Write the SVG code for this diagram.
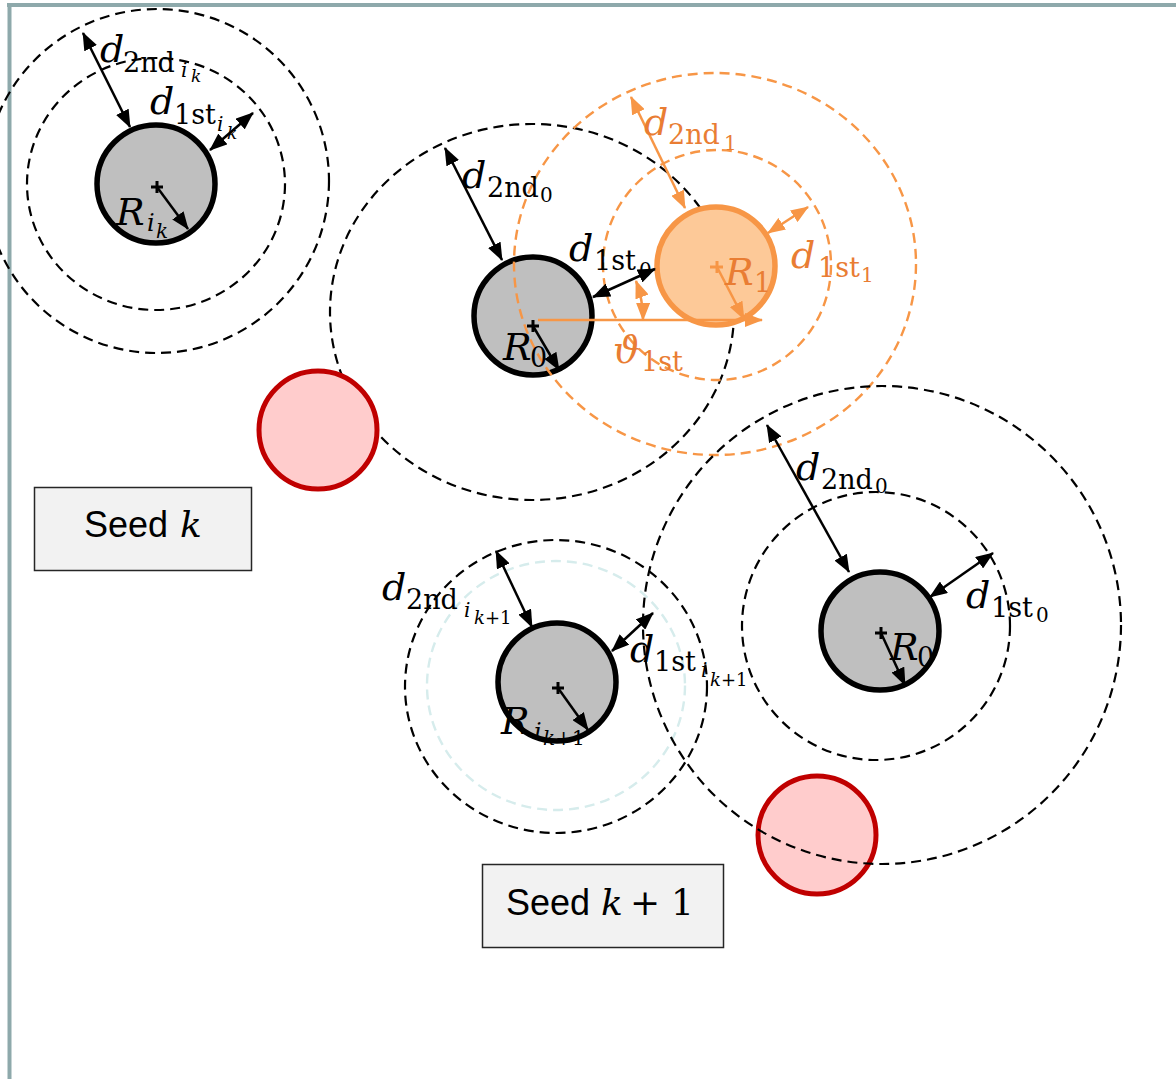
<svg xmlns="http://www.w3.org/2000/svg" width="1176" height="1079" viewBox="0 0 1176 1079">
<style>
.bd{fill:none;stroke:#000;stroke-width:2.2;stroke-dasharray:10 6}
.od{fill:none;stroke:#f79646;stroke-width:2.4;stroke-dasharray:10 6}
.td{fill:none;stroke:#d6ecec;stroke-width:2.4;stroke-dasharray:10 6}
.gray{fill:#bfbfbf;stroke:#000;stroke-width:5.5}
.red{fill:#ffcccc;stroke:#c00000;stroke-width:5}
.org{fill:#fdc998;stroke:#f79646;stroke-width:5.5}
.ba{stroke:#000;stroke-width:2.5;fill:none;marker-start:url(#ab);marker-end:url(#ab)}
.bae{stroke:#000;stroke-width:2.5;fill:none;marker-end:url(#ab)}
.oa{stroke:#f79646;stroke-width:2.5;fill:none;marker-start:url(#ao);marker-end:url(#ao)}
.oae{stroke:#f79646;stroke-width:2.5;fill:none;marker-end:url(#ao)}
.cross{stroke:#000;stroke-width:3}
.ocross{stroke:#f79646;stroke-width:3}
.m{font-family:"DejaVu Serif","Liberation Serif",serif;fill:#000}
.i{font-style:italic}
.o{fill:#e97d33}
.box{fill:#f2f2f2;stroke:#262626;stroke-width:1.5}
.sans{font-family:"Liberation Sans","Noto Sans",sans-serif;font-size:36px;fill:#000}
</style>
<defs>
<marker id="ab" viewBox="0 0 18 14" refX="17" refY="7" markerWidth="18" markerHeight="14" markerUnits="userSpaceOnUse" orient="auto-start-reverse"><path d="M0,0 L18,7 L0,14 z" fill="#000"/></marker>
<marker id="ao" viewBox="0 0 18 14" refX="17" refY="7" markerWidth="18" markerHeight="14" markerUnits="userSpaceOnUse" orient="auto-start-reverse"><path d="M0,0 L18,7 L0,14 z" fill="#f79646"/></marker>
</defs>
<rect width="1176" height="1079" fill="#fff"/>
<g id="frame">
<line x1="7" y1="5" x2="1176" y2="5" stroke="#8ea9ab" stroke-width="4"/>
<line x1="9.5" y1="3" x2="9.5" y2="1079" stroke="#8ea9ab" stroke-width="4"/>
</g>

<g id="ring-mid-2nd"><ellipse class="bd" cx="532" cy="312" rx="202" ry="188"/></g>

<g id="red-1"><circle class="red" cx="318" cy="430" r="59"/></g>
<g id="red-2"><circle class="red" cx="817" cy="835" r="59"/></g>

<g id="node-ik">
<circle class="gray" cx="156" cy="184" r="59"/>
<path class="cross" d="M151,187 H163 M157,181 V193"/>
</g>
<g id="node-mid">
<circle class="gray" cx="533" cy="316" r="59"/>
<path class="cross" d="M527,326 H539 M533,320 V332"/>
</g>
<g id="node-orange">
<circle class="org" cx="716" cy="266" r="59"/>
<path class="ocross" d="M710,267 H723 M717,261 V273"/>
</g>
<g id="node-ik1">
<circle class="gray" cx="557" cy="682" r="59"/>
<path class="cross" d="M552,688 H564 M558,682 V694"/>
</g>
<g id="node-right">
<circle class="gray" cx="880" cy="631" r="59"/>
<path class="cross" d="M875,633 H887 M881,627 V639"/>
</g>

<g id="rings">
<circle class="bd" cx="157" cy="181" r="172"/>
<ellipse class="bd" cx="156" cy="184" rx="129" ry="126"/>
<ellipse class="od" cx="717" cy="265" rx="114" ry="115"/>
<ellipse class="od" cx="715" cy="264" rx="201" ry="191"/>
<ellipse class="td" cx="556" cy="685.5" rx="129" ry="124.5"/>
<ellipse class="bd" cx="556" cy="686.5" rx="151" ry="146.5"/>
<circle class="bd" cx="876" cy="626" r="134"/>
<circle class="bd" cx="882" cy="625" r="239"/>
</g>

<g id="connectors">
<line class="ba" x1="83" y1="33" x2="130" y2="127"/>
<line class="ba" x1="210" y1="150" x2="253" y2="113"/>
<line class="bae" x1="157" y1="187" x2="188" y2="229"/>
<line class="ba" x1="445" y1="148" x2="502" y2="260"/>
<line class="ba" x1="593" y1="297" x2="655" y2="269"/>
<line class="bae" x1="533" y1="326" x2="559" y2="370"/>
<line class="oae" x1="538" y1="320" x2="762" y2="320"/>
<path class="oa" d="M643,320 A108,108 0 0 0 636,281"/>
<line class="oa" x1="631" y1="97" x2="685" y2="208"/>
<line class="oa" x1="768" y1="233" x2="808" y2="207"/>
<line class="oae" x1="717" y1="267" x2="744" y2="319"/>
<line class="ba" x1="496" y1="551" x2="532" y2="627"/>
<line class="ba" x1="612" y1="651" x2="653" y2="613"/>
<line class="bae" x1="558" y1="688" x2="588" y2="730"/>
<line class="ba" x1="767" y1="425" x2="849" y2="572"/>
<line class="ba" x1="930" y1="597" x2="993" y2="553"/>
<line class="bae" x1="881" y1="633" x2="905" y2="685"/>
</g>

<g id="labels">
<text class="m"><tspan class="i" x="100" y="62" font-size="38">d</tspan><tspan x="123" y="72" font-size="27">2nd</tspan><tspan class="i" x="181" y="77" font-size="20">i</tspan><tspan class="i" x="191" y="82" font-size="17">k</tspan></text>
<text class="m"><tspan class="i" x="150" y="114" font-size="38">d</tspan><tspan x="174" y="124" font-size="27">1st</tspan><tspan class="i" x="217" y="131" font-size="20">i</tspan><tspan class="i" x="227" y="139" font-size="17">k</tspan></text>
<text class="m"><tspan class="i" x="116" y="225" font-size="38">R</tspan><tspan class="i" x="147" y="231" font-size="24">i</tspan><tspan class="i" x="156" y="238" font-size="20">k</tspan></text>

<text class="m"><tspan class="i" x="462" y="188" font-size="38">d</tspan><tspan x="487" y="197" font-size="27">2nd</tspan><tspan x="540" y="202" font-size="20">0</tspan></text>
<text class="m"><tspan class="i" x="569" y="261" font-size="38">d</tspan><tspan x="594" y="270" font-size="27">1st</tspan><tspan x="639" y="277" font-size="20">0</tspan></text>
<text class="m"><tspan class="i" x="503" y="360" font-size="38">R</tspan><tspan x="530" y="367" font-size="27">0</tspan></text>
<text class="m o"><tspan class="i" x="613" y="363" font-size="38">ϑ</tspan><tspan x="641" y="371" font-size="27">1st</tspan></text>

<text class="m o"><tspan class="i" x="644" y="135" font-size="38">d</tspan><tspan x="668" y="144" font-size="27">2nd</tspan><tspan x="724" y="150" font-size="20">1</tspan></text>
<text class="m o"><tspan class="i" x="725" y="285" font-size="38">R</tspan><tspan x="754" y="292" font-size="27">1</tspan></text>
<text class="m o"><tspan class="i" x="791" y="268" font-size="38">d</tspan><tspan x="818" y="277" font-size="27">1st</tspan><tspan x="861" y="282" font-size="20">1</tspan></text>

<text class="m"><tspan class="i" x="382" y="600" font-size="38">d</tspan><tspan x="406" y="609" font-size="27">2nd</tspan><tspan class="i" x="464" y="617" font-size="20">i</tspan><tspan x="474" y="624" font-size="18"><tspan class="i">k</tspan>+1</tspan></text>
<text class="m"><tspan class="i" x="501" y="734" font-size="38">R</tspan><tspan class="i" x="534" y="740" font-size="24">i</tspan><tspan x="543" y="745" font-size="20"><tspan class="i">k</tspan>+1</tspan></text>
<text class="m"><tspan class="i" x="630" y="662" font-size="38">d</tspan><tspan x="654" y="671" font-size="27">1st</tspan><tspan class="i" x="701" y="677" font-size="20">i</tspan><tspan x="710" y="686" font-size="18"><tspan class="i">k</tspan>+1</tspan></text>

<text class="m"><tspan class="i" x="796" y="480" font-size="38">d</tspan><tspan x="821" y="489" font-size="27">2nd</tspan><tspan x="875" y="493" font-size="20">0</tspan></text>
<text class="m"><tspan class="i" x="966" y="608" font-size="38">d</tspan><tspan x="991" y="617" font-size="27">1st</tspan><tspan x="1036" y="622" font-size="20">0</tspan></text>
<text class="m"><tspan class="i" x="890" y="660" font-size="38">R</tspan><tspan x="917" y="667" font-size="27">0</tspan></text>
</g>

<g id="seed-k">
<rect class="box" x="34.5" y="487.5" width="217" height="83"/>
<text class="sans" x="84" y="537">Seed <tspan class="m i" x="180" font-size="36">k</tspan></text>
</g>
<g id="seed-k1">
<rect class="box" x="482.5" y="864.5" width="241" height="83"/>
<text class="sans" x="506" y="915">Seed <tspan class="m i" x="601" font-size="36">k</tspan><tspan class="m" x="630" font-size="36">+</tspan><tspan class="m" x="671" font-size="36">1</tspan></text>
</g>
</svg>
